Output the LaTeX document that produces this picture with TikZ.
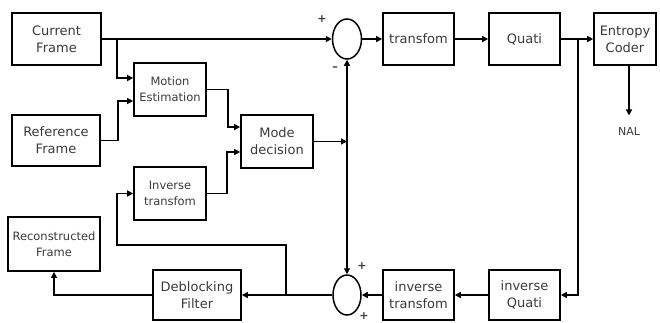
\documentclass[tikz,border=0pt]{standalone}
\usepackage{fontspec}
\setmainfont{DejaVu Sans}
\usetikzlibrary{arrows.meta,shapes.geometric}
\definecolor{tekstgrijs}{HTML}{3A3A3A}

\begin{document}
\begin{tikzpicture}[x=1pt,y=-1pt,
  blok/.style={draw,line width=1.7pt,minimum width=72pt,minimum height=52pt,
    inner sep=1pt,align=center,text=tekstgrijs,font=\fontsize{13}{17}\selectfont},
  klein/.style={font=\fontsize{11.5}{16}\selectfont},
  som/.style={draw,ellipse,line width=1.5pt,minimum width=29pt,
    minimum height=40pt,inner sep=0pt},
  teken/.style={inner sep=0pt,text=tekstgrijs,font=\fontsize{11}{11}\selectfont\bfseries},
  lijn/.style={line width=1.4pt,-{Triangle[length=6pt,width=6pt]}}]

  \useasboundingbox (0,0) rectangle (660,322);

  % blokken links
  \node[blok,minimum width=89pt] (cur) at (56.5,39) {Current\\Frame};
  \node[blok,minimum width=88pt,minimum height=51pt] (ref) at (56,140.5) {Reference\\Frame};
  \node[blok,klein,minimum height=53pt] (me) at (170,89.5) {Motion\\Estimation};
  \node[blok,minimum height=53pt] (md) at (277,141.5) {Mode\\decision};
  \node[blok,klein,minimum height=53pt] (it) at (170,193.5) {Inverse\\transfom};
  \node[blok,klein,minimum width=92pt,minimum height=54pt] (rec) at (54,244) {Reconstructed\\Frame};
  \node[blok,minimum width=88pt,minimum height=50pt] (dbf) at (197,295) {Deblocking\\Filter};

  % optellers
  \node[som] (s1) at (347,39) {};
  \node[som,minimum width=28pt] (s2) at (347,295) {};

  % blokken rechts
  \node[blok,minimum width=71pt] (tr) at (418.5,39) {transfom};
  \node[blok,minimum width=71pt] (q) at (524.5,39) {Quati};
  \node[blok,minimum width=62pt] (ec) at (625,39) {Entropy\\Coder};
  \node[text=tekstgrijs,font=\fontsize{11}{11}\selectfont] (nal) at (629,131) {NAL};
  \node[blok,minimum width=71pt,minimum height=50pt] (itr) at (418.5,295) {inverse\\transfom};
  \node[blok,minimum width=71pt,minimum height=50pt] (iq) at (524.5,295) {inverse\\Quati};

  % tekens
  \node[teken] (p1) at (322,19) {+};
  \node[teken] (m1) at (335,69) {–};
  \node[teken] (p2) at (362,266) {+};
  \node[teken] (p3) at (364,316) {+};

  % voorwaarts pad
  \draw[lijn] (cur.east) -- (s1.west);
  \draw[lijn] (s1.east) -- (tr.west);
  \draw[lijn] (tr.east) -- (q.west);
  \draw[lijn] (q.east) -- (ec.west);
  \draw[lijn] (ec.south -| nal) -- ([yshift=8pt]nal.north);

  % bewegingsschatting en modekeuze
  \coordinate (c1) at (117,39);
  \draw[lijn] (c1) |- ([yshift=11.5pt]me.west);
  \draw[lijn] (ref.east) -- ++(17,0) |- ([yshift=-11.5pt]me.west);
  \draw[lijn] (me.east) -- ++(21,0) |- ([yshift=14.5pt]md.west);
  \draw[lijn] (it.east) -- ++(20,0) |- ([yshift=-10.5pt]md.west);
  \coordinate (c2) at (347,141.5);
  \draw[lijn] (md.east) -- (c2);
  \draw[lijn] (c2) -- (s1.south);
  \draw[lijn] (c2) -- (s2.north);

  % terugkoppeling
  \draw[lijn] (q.east) ++(17,0) coordinate (c3) |- (iq.east);
  \draw[lijn] (iq.west) -- (itr.east);
  \draw[lijn] (itr.west) -- (s2.east);
  \draw[lijn] (s2.west) -- (dbf.east);
  \draw[lijn] (dbf.west) -| (rec.south);
  \coordinate (c4) at (286,295);
  \coordinate (c5) at (117,245);
  \draw[lijn] (c4) |- (c5) |- (it.west);

\end{tikzpicture}
\end{document}
